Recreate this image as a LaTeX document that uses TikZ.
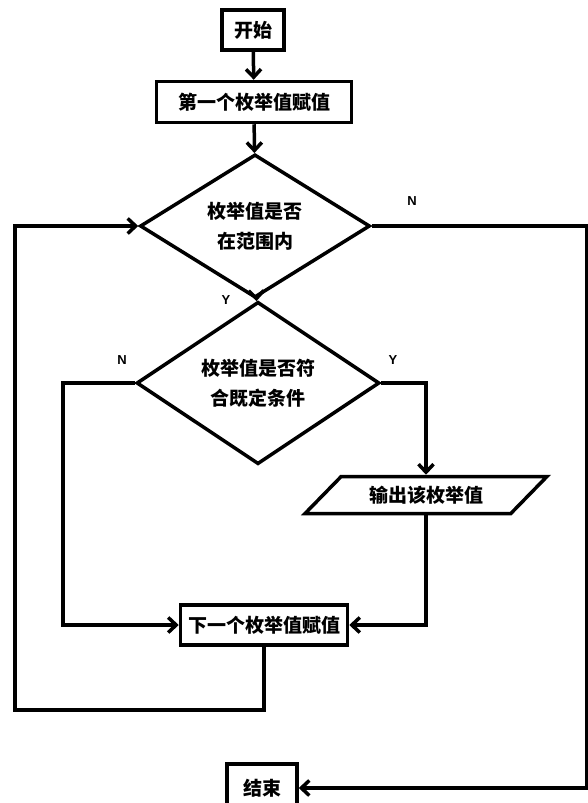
\documentclass[tikz,border=0pt]{standalone}
\usepackage{fontspec}
\setmainfont{Liberation Sans}
\newfontfamily\cjk{Noto Sans CJK SC}
\usetikzlibrary{arrows.meta}
\usetikzlibrary{shapes.geometric}

\begin{document}
\begin{tikzpicture}[x=1pt,y=-1pt,
    >={Straight Barb[length=8pt,width=15pt]},
    line width=3.5pt,
    box/.style={draw,rectangle,inner sep=0pt,font=\cjk\bfseries\fontsize{19}{29}\selectfont},
    test/.style={draw,diamond,inner sep=0pt,align=center,font=\cjk\bfseries\fontsize{19}{30}\selectfont},
    iobox/.style={draw,trapezium,trapezium left angle=37,trapezium right angle=143,
      trapezium stretches=true,inner sep=0pt,font=\cjk\bfseries\fontsize{19}{29}\selectfont},
    flag/.style={font=\bfseries\fontsize{13}{15}\selectfont}]

  \useasboundingbox (0,0) rectangle (587,803);

  \node [box,minimum width=62pt,minimum height=40pt] (start) at (253,30) {开始};
  \node [box,minimum width=195pt,minimum height=41pt] (first) at (254,102) {第一个枚举值赋值};
  \node [test,minimum width=230pt,minimum height=132pt] (inrange) at (255,226) {枚举值是否\\在范围内};
  \node [test,minimum width=243pt,minimum height=120pt] (match) at (258,383) {枚举值是否符\\合既定条件};
  \node [iobox,minimum width=242pt,minimum height=37pt] (print) at (426,495) {输出该枚举值};
  \node [box,minimum width=167pt,minimum height=40pt] (next) at (264,625) {下一个枚举值赋值};
  \node [box,minimum width=70pt,minimum height=48pt] (stop) at (262,788) {结束};

  \node [flag] (inrangeN) at (412,201) {N};
  \node [flag] (inrangeY) at (226,300) {Y};
  \node [flag] (matchN)   at (122,360) {N};
  \node [flag] (matchY)   at (393,360) {Y};

  \coordinate (rightturn)  at (587,788);
  \coordinate (leftturn)   at (63,383);
  \coordinate (loopcorner) at (15,710);

  \path [draw,->]
    (start)   edge (first)
    (first)   edge (inrange)
    (inrange) edge (match);

  \draw [->] (match.east) -| (print.north);
  \draw [->] (print.south) |- (next.east);
  \draw [->] (match.west) -- (leftturn) |- (next.west);
  \draw [->] (next.south) |- (loopcorner) |- (inrange.west);
  \draw [->] (inrange.east) -| (rightturn) -- (stop.east);

\end{tikzpicture}
\end{document}
